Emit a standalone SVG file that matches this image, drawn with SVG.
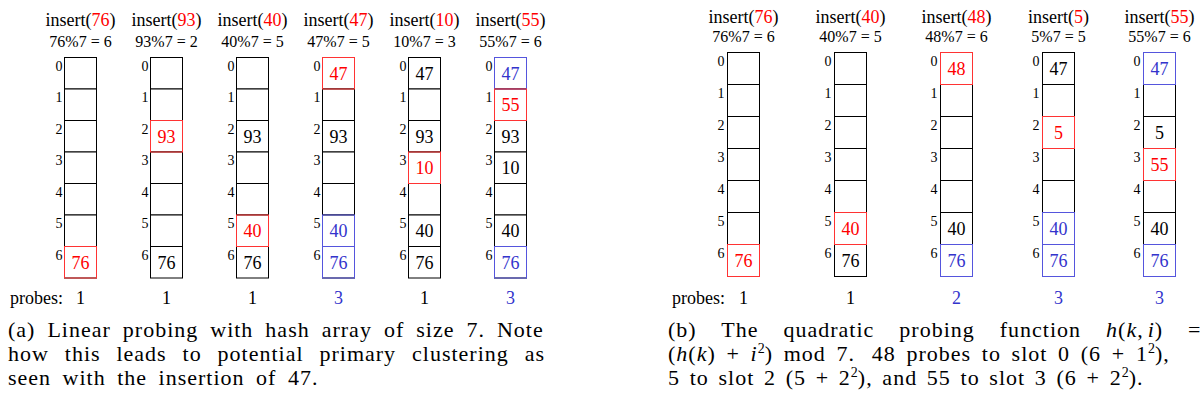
<svg xmlns="http://www.w3.org/2000/svg" xmlns:xlink="http://www.w3.org/1999/xlink" width="1204" height="406" viewBox="0 0 1204 406">
<style>
text{font-family:"Liberation Serif","Times New Roman",serif;fill:#000}
.hdr{font-size:18px;text-anchor:middle}
.hash{font-size:16px;text-anchor:middle}
.idx{font-size:14px;text-anchor:end}
.val{font-size:18px;text-anchor:middle}
.prb{font-size:18px;text-anchor:middle}
.lbl{font-size:18px}
.cap{font-size:22px;letter-spacing:1px}
.sup{font-size:14px;letter-spacing:0}
.it{font-style:italic}
.cell{fill:#fff;stroke:#000;stroke-width:1}
.cr{fill:none;stroke:#f33;stroke-width:1}
.cb{fill:none;stroke:#55d;stroke-width:1}
.r{fill:#f00}
.b{fill:#33c}
</style>
<defs>
<g id="gridL">
<rect class="cell" x="0" y="0" width="32" height="31.5"/>
<rect class="cell" x="0" y="31.5" width="32" height="31.5"/>
<rect class="cell" x="0" y="63" width="32" height="31.5"/>
<rect class="cell" x="0" y="94.5" width="32" height="31.5"/>
<rect class="cell" x="0" y="126" width="32" height="31.5"/>
<rect class="cell" x="0" y="157.5" width="32" height="31.5"/>
<rect class="cell" x="0" y="189" width="32" height="31.5"/>
<text class="idx" x="-2" y="13">0</text>
<text class="idx" x="-2" y="44.5">1</text>
<text class="idx" x="-2" y="76">2</text>
<text class="idx" x="-2" y="107.5">3</text>
<text class="idx" x="-2" y="139">4</text>
<text class="idx" x="-2" y="170.5">5</text>
<text class="idx" x="-2" y="202">6</text>
</g>
<g id="gridR">
<rect class="cell" x="0" y="0" width="32" height="32"/>
<rect class="cell" x="0" y="32" width="32" height="32"/>
<rect class="cell" x="0" y="64" width="32" height="32"/>
<rect class="cell" x="0" y="96" width="32" height="32"/>
<rect class="cell" x="0" y="128" width="32" height="32"/>
<rect class="cell" x="0" y="160" width="32" height="32"/>
<rect class="cell" x="0" y="192" width="32" height="32"/>
<text class="idx" x="-3" y="13">0</text>
<text class="idx" x="-3" y="45">1</text>
<text class="idx" x="-3" y="77">2</text>
<text class="idx" x="-3" y="109">3</text>
<text class="idx" x="-3" y="141">4</text>
<text class="idx" x="-3" y="173">5</text>
<text class="idx" x="-3" y="205">6</text>
</g>
</defs>

<g id="connectors"/>

<!-- Left panel: linear probing -->
<text id="probes-a" class="lbl" x="10" y="304">probes:</text>

<g id="lin-76" transform="translate(64.5,57.5)">
<text class="hdr" x="16" y="-31.5">insert(<tspan class="r">76</tspan>)</text>
<text class="hash" x="16" y="-10.5">76%7 = 6</text>
<use xlink:href="#gridL"/>
<rect class="cr" x="0" y="189" width="32" height="31.5"/>
<text class="val r" x="16" y="211">76</text>
<text class="prb" x="16" y="246.5">1</text>
</g>

<g id="lin-93" transform="translate(150.5,57.5)">
<text class="hdr" x="16" y="-31.5">insert(<tspan class="r">93</tspan>)</text>
<text class="hash" x="16" y="-10.5">93%7 = 2</text>
<use xlink:href="#gridL"/>
<rect class="cr" x="0" y="63" width="32" height="31.5"/>
<text class="val r" x="16" y="85">93</text>
<text class="val" x="16" y="211">76</text>
<text class="prb" x="16" y="246.5">1</text>
</g>

<g id="lin-40" transform="translate(236.5,57.5)">
<text class="hdr" x="16" y="-31.5">insert(<tspan class="r">40</tspan>)</text>
<text class="hash" x="16" y="-10.5">40%7 = 5</text>
<use xlink:href="#gridL"/>
<rect class="cr" x="0" y="157.5" width="32" height="31.5"/>
<text class="val" x="16" y="85">93</text>
<text class="val r" x="16" y="179.5">40</text>
<text class="val" x="16" y="211">76</text>
<text class="prb" x="16" y="246.5">1</text>
</g>

<g id="lin-47" transform="translate(322.5,57.5)">
<text class="hdr" x="16" y="-31.5">insert(<tspan class="r">47</tspan>)</text>
<text class="hash" x="16" y="-10.5">47%7 = 5</text>
<use xlink:href="#gridL"/>
<rect class="cr" x="0" y="0" width="32" height="31.5"/>
<rect class="cb" x="0" y="157.5" width="32" height="31.5"/>
<rect class="cb" x="0" y="189" width="32" height="31.5"/>
<text class="val r" x="16" y="22">47</text>
<text class="val" x="16" y="85">93</text>
<text class="val b" x="16" y="179.5">40</text>
<text class="val b" x="16" y="211">76</text>
<text class="prb b" x="16" y="246.5">3</text>
</g>

<g id="lin-10" transform="translate(408.5,57.5)">
<text class="hdr" x="16" y="-31.5">insert(<tspan class="r">10</tspan>)</text>
<text class="hash" x="16" y="-10.5">10%7 = 3</text>
<use xlink:href="#gridL"/>
<rect class="cr" x="0" y="94.5" width="32" height="31.5"/>
<text class="val" x="16" y="22">47</text>
<text class="val" x="16" y="85">93</text>
<text class="val r" x="16" y="116.5">10</text>
<text class="val" x="16" y="179.5">40</text>
<text class="val" x="16" y="211">76</text>
<text class="prb" x="16" y="246.5">1</text>
</g>

<g id="lin-55" transform="translate(494.5,57.5)">
<text class="hdr" x="16" y="-31.5">insert(<tspan class="r">55</tspan>)</text>
<text class="hash" x="16" y="-10.5">55%7 = 6</text>
<use xlink:href="#gridL"/>
<rect class="cb" x="0" y="0" width="32" height="31.5"/>
<rect class="cr" x="0" y="31.5" width="32" height="31.5"/>
<rect class="cb" x="0" y="189" width="32" height="31.5"/>
<text class="val b" x="16" y="22">47</text>
<text class="val r" x="16" y="53.5">55</text>
<text class="val" x="16" y="85">93</text>
<text class="val" x="16" y="116.5">10</text>
<text class="val" x="16" y="179.5">40</text>
<text class="val b" x="16" y="211">76</text>
<text class="prb b" x="16" y="246.5">3</text>
</g>

<!-- Right panel: quadratic probing -->
<text id="probes-b" class="lbl" x="672" y="304">probes:</text>

<g id="quad-76" transform="translate(727.5,52.5)">
<text class="hdr" x="16" y="-29.5">insert(<tspan class="r">76</tspan>)</text>
<text class="hash" x="16" y="-10.5">76%7 = 6</text>
<use xlink:href="#gridR"/>
<rect class="cr" x="0" y="192" width="32" height="32"/>
<text class="val r" x="16" y="214.5">76</text>
<text class="prb" x="16" y="251.5">1</text>
</g>

<g id="quad-40" transform="translate(834.5,52.5)">
<text class="hdr" x="16" y="-29.5">insert(<tspan class="r">40</tspan>)</text>
<text class="hash" x="16" y="-10.5">40%7 = 5</text>
<use xlink:href="#gridR"/>
<rect class="cr" x="0" y="160" width="32" height="32"/>
<text class="val r" x="16" y="182.5">40</text>
<text class="val" x="16" y="214.5">76</text>
<text class="prb" x="16" y="251.5">1</text>
</g>

<g id="quad-48" transform="translate(940.5,52.5)">
<text class="hdr" x="16" y="-29.5">insert(<tspan class="r">48</tspan>)</text>
<text class="hash" x="16" y="-10.5">48%7 = 6</text>
<use xlink:href="#gridR"/>
<rect class="cr" x="0" y="0" width="32" height="32"/>
<rect class="cb" x="0" y="192" width="32" height="32"/>
<text class="val r" x="16" y="22.5">48</text>
<text class="val" x="16" y="182.5">40</text>
<text class="val b" x="16" y="214.5">76</text>
<text class="prb b" x="16" y="251.5">2</text>
</g>

<g id="quad-5" transform="translate(1042.5,52.5)">
<text class="hdr" x="16" y="-29.5">insert(<tspan class="r">5</tspan>)</text>
<text class="hash" x="16" y="-10.5">5%7 = 5</text>
<use xlink:href="#gridR"/>
<rect class="cr" x="0" y="64" width="32" height="32"/>
<rect class="cb" x="0" y="160" width="32" height="32"/>
<rect class="cb" x="0" y="192" width="32" height="32"/>
<text class="val" x="16" y="22.5">47</text>
<text class="val r" x="16" y="86.5">5</text>
<text class="val b" x="16" y="182.5">40</text>
<text class="val b" x="16" y="214.5">76</text>
<text class="prb b" x="16" y="251.5">3</text>
</g>

<g id="quad-55" transform="translate(1143.5,52.5)">
<text class="hdr" x="16" y="-29.5">insert(<tspan class="r">55</tspan>)</text>
<text class="hash" x="16" y="-10.5">55%7 = 6</text>
<use xlink:href="#gridR"/>
<rect class="cb" x="0" y="0" width="32" height="32"/>
<rect class="cr" x="0" y="96" width="32" height="32"/>
<rect class="cb" x="0" y="192" width="32" height="32"/>
<text class="val b" x="16" y="22.5">47</text>
<text class="val" x="16" y="86.5">5</text>
<text class="val r" x="16" y="118.5">55</text>
<text class="val" x="16" y="182.5">40</text>
<text class="val b" x="16" y="214.5">76</text>
<text class="prb b" x="16" y="251.5">3</text>
</g>

<!-- Captions -->
<g id="caption-a">
<text class="cap" x="8" y="337" word-spacing="5.5">(a) Linear probing with hash array of size 7. Note</text>
<text class="cap" x="8" y="361" word-spacing="9.4">how this leads to potential primary clustering as</text>
<text class="cap" x="8" y="385" word-spacing="5">seen with the insertion of 47.</text>
</g>
<g id="caption-b">
<text class="cap" x="668" y="337" word-spacing="18.5">(b) The quadratic probing function <tspan class="it">h</tspan>(<tspan class="it">k</tspan>,<tspan class="it" dx="4">i</tspan>) =</text>
<text class="cap" x="668" y="361" word-spacing="4.2">(<tspan class="it">h</tspan>(<tspan class="it">k</tspan>) + <tspan class="it">i</tspan><tspan class="sup" dy="-8">2</tspan><tspan dy="8">) mod 7.</tspan><tspan dx="6"> 48 probes to slot 0 (6 + 1</tspan><tspan class="sup" dy="-8">2</tspan><tspan dy="8">),</tspan></text>
<text class="cap" x="668" y="385" word-spacing="3.2">5 to slot 2 (5 + 2<tspan class="sup" dy="-8">2</tspan><tspan dy="8">), and 55 to slot 3 (6 + 2</tspan><tspan class="sup" dy="-8">2</tspan><tspan dy="8">).</tspan></text>
</g>
</svg>
